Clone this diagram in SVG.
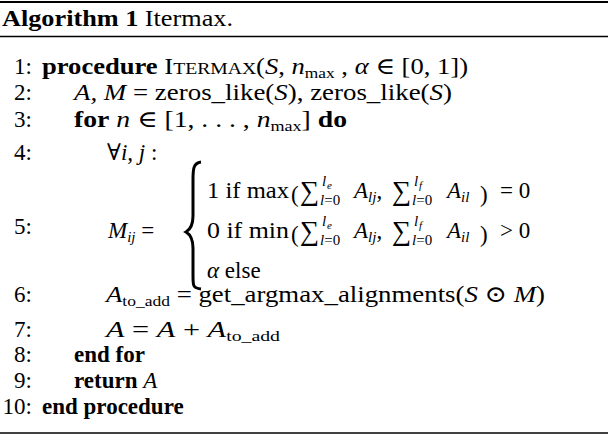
<svg xmlns="http://www.w3.org/2000/svg" width="608" height="436" viewBox="0 0 608 436">
<style>
text{font-family:"Liberation Serif","DejaVu Serif",serif;font-size:23px;fill:#000}
.b{font-weight:bold}
.i{font-style:italic}
.n{text-anchor:end}
.s{font-size:15px}
.t{font-size:11px;font-style:italic}
.sc{font-size:17px}
.sum{font-size:27px}
</style>
<rect width="608" height="436" fill="#fff"/>
<line x1="0" y1="2" x2="608" y2="2" stroke="#000" stroke-width="2.2"/>
<line x1="0" y1="36.5" x2="608" y2="36.5" stroke="#000" stroke-width="1.3"/>
<line x1="0" y1="433" x2="608" y2="433" stroke="#000" stroke-width="1.3"/>
<text x="2" y="26" style="font-size:24px" textLength="231" lengthAdjust="spacingAndGlyphs"><tspan class="b">Algorithm 1</tspan> Itermax.</text>
<g>
<text class="n" x="32" y="74">1:</text>
<text class="n" x="32" y="100">2:</text>
<text class="n" x="32" y="127">3:</text>
<text class="n" x="32" y="160">4:</text>
<text class="n" x="32" y="234">5:</text>
<text class="n" x="32" y="302">6:</text>
<text class="n" x="32" y="337">7:</text>
<text class="n" x="32" y="362">8:</text>
<text class="n" x="32" y="388">9:</text>
<text class="n" x="32" y="414">10:</text>
</g>
<text x="42" y="74" textLength="426" lengthAdjust="spacingAndGlyphs"><tspan class="b">procedure</tspan> I<tspan class="sc">TERMAX</tspan>(<tspan class="i">S</tspan>, <tspan class="i">n</tspan><tspan class="s" dy="4">max</tspan><tspan dy="-4"> , </tspan><tspan class="i">α</tspan> ∈ [0, 1])</text>
<text x="74" y="100" textLength="378" lengthAdjust="spacingAndGlyphs"><tspan class="i">A, M</tspan> = zeros_like(<tspan class="i">S</tspan>), zeros_like(<tspan class="i">S</tspan>)</text>
<text x="74" y="127" textLength="273" lengthAdjust="spacingAndGlyphs"><tspan class="b">for</tspan> <tspan class="i">n</tspan> ∈ [1, . . . , <tspan class="i">n</tspan><tspan class="s" dy="4">max</tspan><tspan dy="-4">] </tspan><tspan class="b">do</tspan></text>
<text x="107" y="160">∀<tspan class="i">i, j</tspan> :</text>
<text x="108" y="238"><tspan class="i">M</tspan><tspan class="s i" dy="4">ij</tspan><tspan dy="-4"> =</tspan></text>
<path d="M201,162 C193,163 193,170 193,180 L193,216 C193,224 191,229 186,232 C191,235 193,240 193,248 L193,276 C193,286 193,288 201,289" fill="none" stroke="#000" stroke-width="3"/>
<g id="case1">
<text x="207" y="198" textLength="82" lengthAdjust="spacingAndGlyphs">1 if  max</text>
<text x="291" y="202" font-size="32">(</text>
<text class="sum" x="300" y="200">∑</text>
<text class="t" x="322" y="186" style="font-size:15px">l</text><text class="t" x="327" y="189">e</text>
<text class="s" x="320" y="205"><tspan class="i">l</tspan>=0</text>
<text x="354" y="198"><tspan class="i">A</tspan><tspan class="s i" dy="4">lj</tspan><tspan dy="-4">,</tspan></text>
<text class="sum" x="392" y="200">∑</text>
<text class="t" x="414" y="186" style="font-size:15px">l</text><text class="t" x="419" y="189">f</text>
<text class="s" x="412" y="205"><tspan class="i">l</tspan>=0</text>
<text x="447" y="198"><tspan class="i">A</tspan><tspan class="s i" dy="4">il</tspan></text>
<text x="480" y="202" font-size="32">)</text>
<text x="500" y="198">=  0</text>
</g>
<g id="case2">
<text x="207" y="238" textLength="82" lengthAdjust="spacingAndGlyphs">0 if  min</text>
<text x="291" y="242" font-size="32">(</text>
<text class="sum" x="300" y="240">∑</text>
<text class="t" x="322" y="226" style="font-size:15px">l</text><text class="t" x="327" y="229">e</text>
<text class="s" x="320" y="245"><tspan class="i">l</tspan>=0</text>
<text x="354" y="238"><tspan class="i">A</tspan><tspan class="s i" dy="4">lj</tspan><tspan dy="-4">,</tspan></text>
<text class="sum" x="392" y="240">∑</text>
<text class="t" x="414" y="226" style="font-size:15px">l</text><text class="t" x="419" y="229">f</text>
<text class="s" x="412" y="245"><tspan class="i">l</tspan>=0</text>
<text x="447" y="238"><tspan class="i">A</tspan><tspan class="s i" dy="4">il</tspan></text>
<text x="480" y="242" font-size="32">)</text>
<text x="500" y="238">&gt;  0</text>
</g>
<text x="207" y="278"><tspan class="i">α</tspan> else</text>
<text x="106" y="302" textLength="439" lengthAdjust="spacingAndGlyphs"><tspan class="i">A</tspan><tspan class="s" dy="4">to_add</tspan><tspan dy="-4"> = get_argmax_alignments(</tspan><tspan class="i">S</tspan> ⊙ <tspan class="i">M</tspan>)</text>
<text x="106" y="337" textLength="174" lengthAdjust="spacingAndGlyphs"><tspan class="i">A</tspan> = <tspan class="i">A</tspan> + <tspan class="i">A</tspan><tspan class="s" dy="4">to_add</tspan></text>
<text x="74" y="362" class="b">end for</text>
<text x="74" y="388"><tspan class="b">return</tspan> <tspan class="i">A</tspan></text>
<text x="42" y="414" class="b">end procedure</text>
</svg>
